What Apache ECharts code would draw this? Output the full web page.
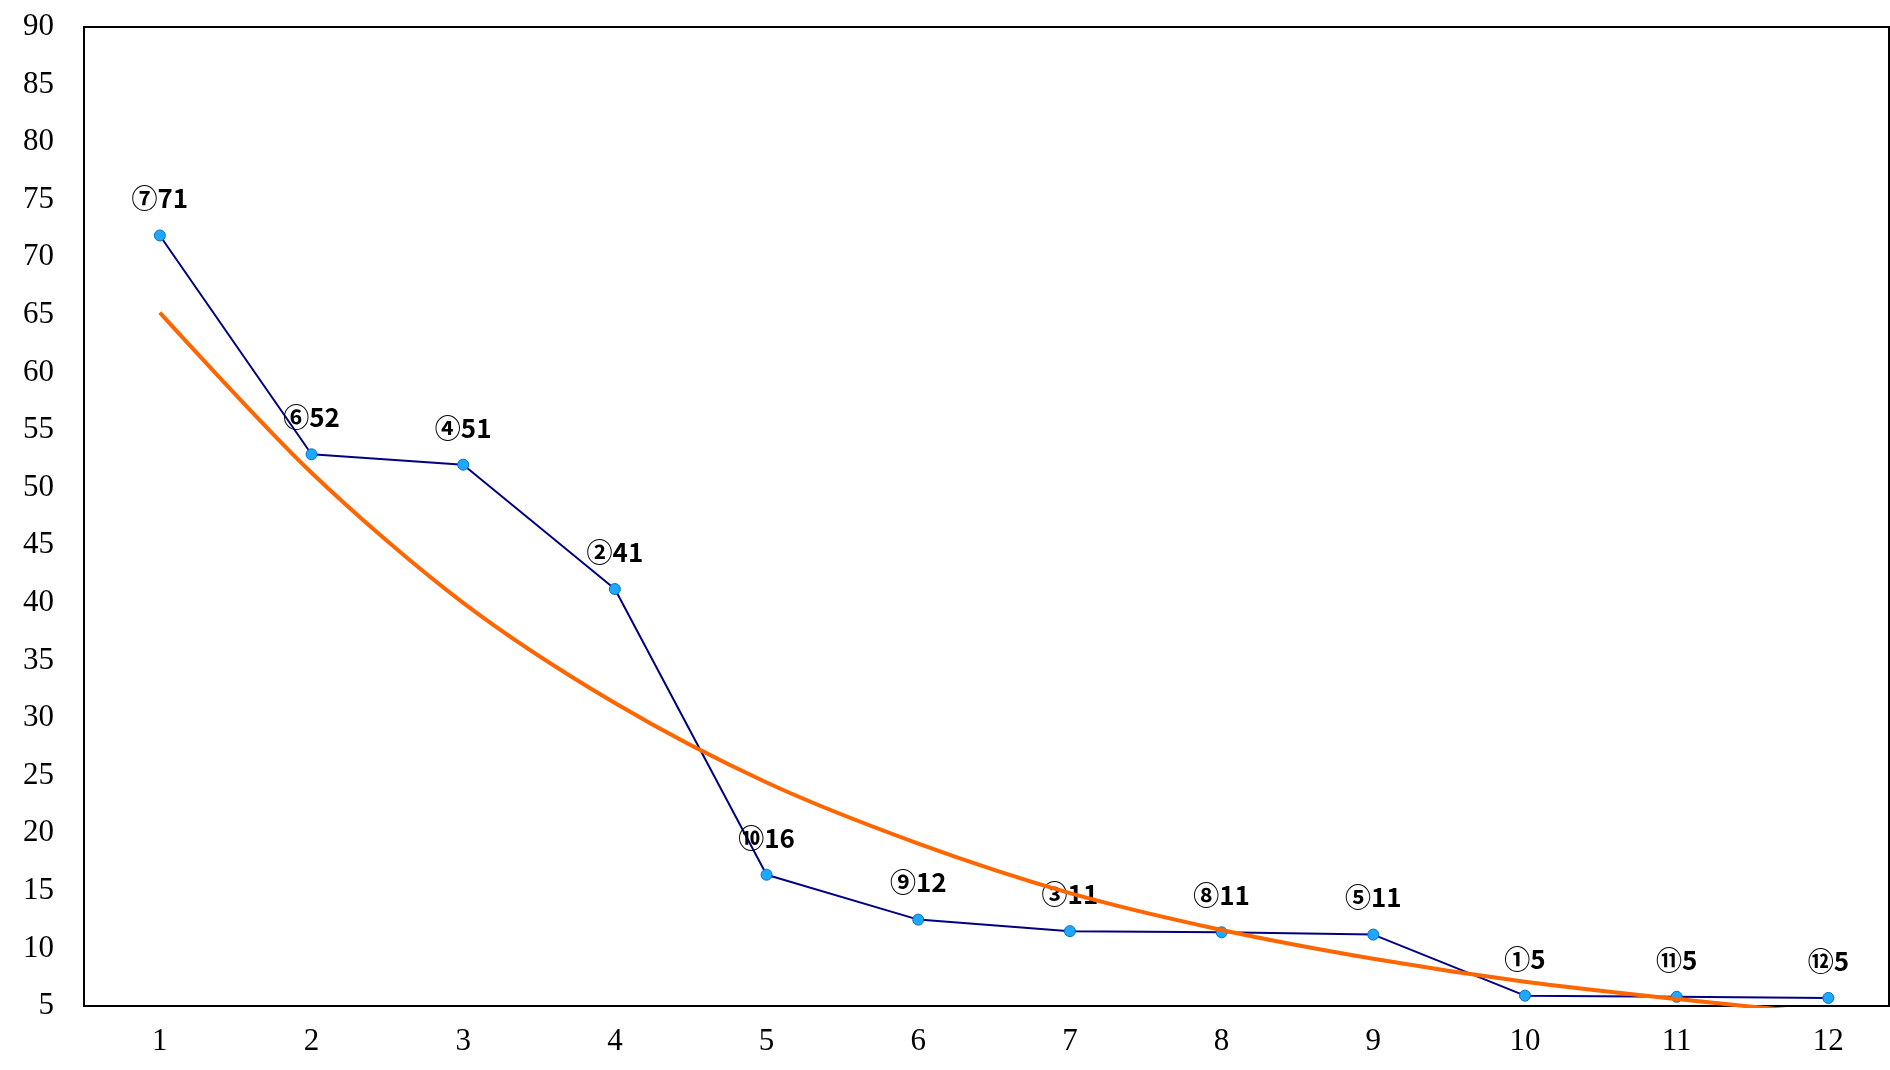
<!DOCTYPE html>
<html>
<head>
<meta charset="UTF-8">
<script src="https://cdn.jsdelivr.net/npm/echarts@6/dist/echarts.min.js"></script>
<style>
  html, body { margin: 0; padding: 0; background: #fff; }
  #chart { width: 1890px; height: 1070px; }
</style>
</head>
<body>
<div id="chart"></div>
<script>
  // 順位とデータ
  const ranks = [1, 2, 3, 4, 5, 6, 7, 8, 9, 10, 11, 12];
  const values = [71.9, 52.9, 52.0, 41.2, 16.4, 12.5, 11.5, 11.4, 11.2, 5.9, 5.8, 5.7];
  const labels = ['⑦71', '⑥52', '④51', '②41', '⑩16', '⑨12', '③11', '⑧11', '⑤11', '①5', '⑪5', '⑫5'];
  // 近似曲線
  const trend = [65.2, 51.3, 40.0, 31.3, 24.4, 19.1, 14.8, 11.6, 9.1, 7.1, 5.6, 4.3];
  const yTicks = [5, 10, 15, 20, 25, 30, 35, 40, 45, 50, 55, 60, 65, 70, 75, 80, 85, 90];

  const chart = echarts.init(document.getElementById('chart'));
  const axisFont = { fontFamily: 'Liberation Serif', fontSize: 31, color: '#000' };

  chart.setOption({
    animation: false,
    grid: { left: 84, right: 1, top: 27, bottom: 64, show: true, borderColor: '#000', borderWidth: 2 },
    xAxis: {
      type: 'value', min: 0.5, max: 12.4,
      axisLine: { lineStyle: { color: '#000', width: 2 } },
      axisTick: { show: false },
      splitLine: { show: false },
      axisLabel: Object.assign({ customValues: ranks, margin: 20 }, axisFont)
    },
    yAxis: {
      type: 'value', min: 5, max: 90,
      axisLine: { show: true, lineStyle: { color: '#000', width: 2 } },
      axisTick: { show: false },
      splitLine: { show: false },
      axisLabel: Object.assign({ customValues: yTicks, margin: 30 }, axisFont)
    },
    series: [
      {
        type: 'line',
        data: ranks.map((r, i) => [r, trend[i]]),
        smooth: 0.3,
        symbol: 'none',
        clip: true,
        lineStyle: { color: '#ff6600', width: 4 },
        z: 3
      },
      {
        type: 'line',
        data: ranks.map((r, i) => [r, values[i]]),
        symbol: 'circle',
        symbolSize: 11,
        itemStyle: { color: '#1ea8ff', borderColor: '#0070c0', borderWidth: 1 },
        lineStyle: { color: '#000080', width: 2 },
        label: {
          show: true, position: 'top', distance: 18,
          formatter: p => labels[p.dataIndex],
          fontFamily: 'Noto Sans CJK JP', fontWeight: 'bold', fontSize: 26, color: '#000'
        },
        z: 2
      }
    ]
  });
</script>
</body>
</html>
